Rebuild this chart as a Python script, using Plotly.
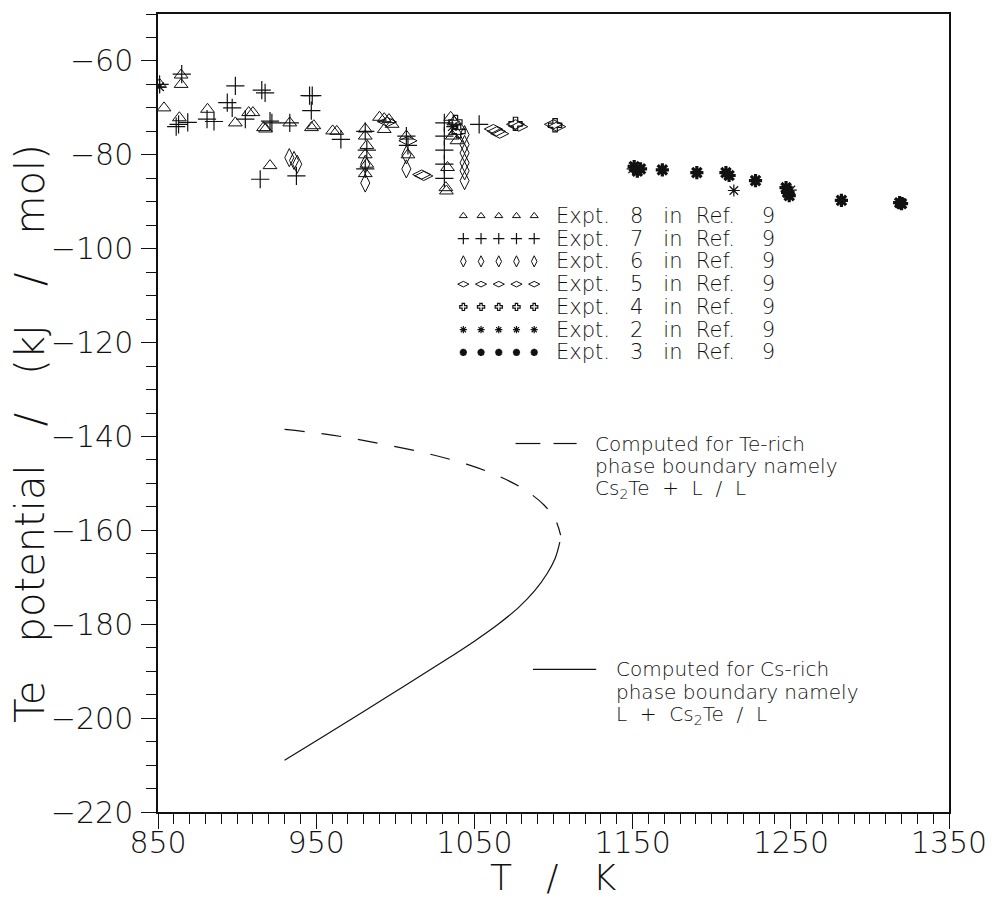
import plotly.graph_objects as go
import numpy as np

# ---------------- data ----------------
# Expt. 8 in Ref. 9 (open triangles)
e8_T = [851, 864.6, 864.6, 853.8, 863.5, 881.3, 898.9, 907.3, 910, 916.7, 918, 920.8, 933.3,
        947, 948.5, 960.4, 963, 981, 981, 982, 981, 982, 981, 990, 993, 996, 998, 993,
        1007, 1008, 1033, 1032.3, 1032, 1035, 1037, 1038, 1040, 1036, 1039]
e8_mu = [-65, -63, -65, -70, -72.1, -70.3, -73.2, -71, -71, -74.2, -74.5, -82.3, -73.2,
         -74.2, -73.8, -74.9, -75, -74.5, -76, -78, -80, -82, -84, -72, -72.3, -72.5, -73.5, -74.6,
         -76, -80, -82.7, -87.7, -87, -72, -73, -75, -74, -76, -77]
# Expt. 7 (plus)
e7_T = [851, 865, 861.5, 863, 868.8, 881, 885.4, 893.8, 896.9, 898.9, 905.2, 915.6, 917.7,
        914.6, 920.8, 922, 933.3, 937.5, 945.8, 947.5, 946.9, 965.6, 981, 982, 981,
        1007, 1008, 1031, 1031, 1031, 1031, 1031, 1053]
e7_mu = [-65, -62.8, -74, -73.5, -73.1, -72.4, -72.9, -68.9, -70, -65.3, -72.4, -66.2, -66.8,
         -85.2, -72.8, -73.2, -73.2, -84.5, -67.4, -67.4, -70.6, -76.7, -75, -79, -83,
         -76, -78, -73.2, -76, -79, -82, -85, -73.5]
# Expt. 6 (tall diamonds)
e6_T = [933, 936, 938, 981, 981, 1007, 1007, 1043.8, 1043.8, 1043.8, 1043.8, 1043.8, 1043.8]
e6_mu = [-80.6, -81.2, -82, -86, -82, -80, -83, -75.7, -77.8, -79.6, -81.7, -83.4, -85.5]
# Expt. 5 (wide diamonds)
e5_T = [1016.7, 1018, 1062, 1064, 1066, 1076, 1078, 1100, 1102, 995, 1008]
e5_mu = [-84.2, -84.5, -74.5, -75, -75.5, -73.5, -74, -73.5, -74, -73, -77]
# Expt. 4 (open cross)
e4_T = [1076, 1101, 1038, 1040]
e4_mu = [-73.4, -73.7, -73, -75]
# Expt. 2 (asterisk)
e2_T = [851, 1214, 1036, 1150, 1250]
e2_mu = [-65.5, -87.6, -74, -83, -87.5]
# Expt. 3 (bold star)
e3_T = [1151, 1153, 1155, 1168.8, 1190.6, 1209, 1211, 1227.7, 1247, 1248, 1249, 1282, 1318.8, 1320]
e3_mu = [-82.5, -83.5, -83, -83.2, -83.8, -83.8, -84.4, -85.5, -87, -88, -88.7, -89.7, -90.2, -90.4]

# Computed curves
te_rich_T = [930, 960, 990, 1020, 1045, 1065, 1082, 1094, 1101, 1104.5]
te_rich_mu = [-138.5, -139.7, -141.5, -143.6, -145.9, -148.4, -151.4, -154.6, -157.6, -161]
cs_rich_T = [930, 955, 980, 1005, 1030, 1050, 1065, 1078, 1088, 1096, 1101, 1104]
cs_rich_mu = [-209, -203.8, -198.6, -193.3, -188.0, -183.6, -180.0, -176.4, -172.9, -169.2, -166, -162.5]

NB = "\u00a0"
legend_labels = [f"Expt.{NB*3}{n}{NB*3}in{NB*2}Ref.{NB*4}9" for n in ["8", "7", "6", "5", "4", "2", "3"]]

te_label = ["Computed for Te-rich", "phase boundary namely",
            f"Cs<sub>2</sub>Te{NB*2}+{NB*2}L{NB*2}/{NB*2}L"]
cs_label = ["Computed for Cs-rich", "phase boundary namely",
            f"L{NB*2}+{NB*2}Cs<sub>2</sub>Te{NB*2}/{NB*2}L"]

x_ticks = [850, 950, 1050, 1150, 1250, 1350]
y_ticks = [-220, -200, -180, -160, -140, -120, -100, -80, -60]
x_title = f"T{NB*3}/{NB*3}K"
y_title = f"Te{NB*3}potential{NB*3}/{NB*3}(kJ{NB*3}/{NB*3}mol)"

# ---------------- figure ----------------
INK = "#111111"
FONT = "DejaVu Sans"
W = 200

series = [
    (e8_T, e8_mu, "triangle-up-open", 12, 1.0),
    (e7_T, e7_mu, "cross-thin-open", 13, 1.2),
    (e6_T, e6_mu, "diamond-tall-open", 13, 1.0),
    (e5_T, e5_mu, "diamond-wide-open", 13, 1.0),
    (e4_T, e4_mu, "cross-open", 11, 1.2),
    (e2_T, e2_mu, "asterisk-open", 10, 1.2),
    (e3_T, e3_mu, "asterisk-open", 11, 3.2),
]

fig = go.Figure()
for T, mu, sym, sz, lw in series:
    fig.add_trace(go.Scatter(x=T, y=mu, mode="markers",
                             marker=dict(symbol=sym, size=sz, color=INK,
                                         line=dict(color=INK, width=lw)),
                             showlegend=False, hoverinfo="skip"))

fig.add_trace(go.Scatter(x=te_rich_T, y=te_rich_mu, mode="lines", line_shape="spline",
                         line=dict(color=INK, width=1.2, dash="20px,17px"),
                         showlegend=False, hoverinfo="skip"))
fig.add_trace(go.Scatter(x=cs_rich_T, y=cs_rich_mu, mode="lines", line_shape="spline",
                         line=dict(color=INK, width=1.2),
                         showlegend=False, hoverinfo="skip"))

# legend block (drawn manually: five sample symbols + text per row)
leg_x0, leg_dx = 1043.0, 11.2
leg_y0, leg_dy = -93.0, -4.85
sample_x = leg_x0 + leg_dx * np.arange(5)
for i, (_, _, sym, sz, lw) in enumerate(series):
    yrow = leg_y0 + leg_dy * i
    fig.add_trace(go.Scatter(x=sample_x, y=[yrow] * 5, mode="markers",
                             marker=dict(symbol=sym, size=max(sz - 5, 6), color=INK,
                                         line=dict(color=INK, width=min(lw, 2.2))),
                             showlegend=False, hoverinfo="skip"))
    fig.add_annotation(x=1100, y=yrow, text=legend_labels[i], showarrow=False,
                       xanchor="left", yanchor="middle",
                       font=dict(family=FONT, size=21, color=INK, weight=W))

# curve labels
line_step = -4.85
fig.add_shape(type="line", x0=1076, x1=1091.7, y0=-141.5, y1=-141.5, line=dict(color=INK, width=1.2))
fig.add_shape(type="line", x0=1100, x1=1114.6, y0=-141.5, y1=-141.5, line=dict(color=INK, width=1.2))
for k, t in enumerate(te_label):
    fig.add_annotation(x=1125, y=-141.5 + line_step * k, showarrow=False, xanchor="left",
                       yanchor="middle", text=t, font=dict(family=FONT, size=20, color=INK, weight=W))
fig.add_shape(type="line", x0=1087, x1=1127, y0=-189.6, y1=-189.6, line=dict(color=INK, width=1.2))
for k, t in enumerate(cs_label):
    fig.add_annotation(x=1138, y=-189.6 + line_step * k, showarrow=False, xanchor="left",
                       yanchor="middle", text=t, font=dict(family=FONT, size=20, color=INK, weight=W))

# axis titles
fig.add_annotation(xref="paper", yref="paper", x=-0.162, y=0.475, textangle=-90,
                   showarrow=False, xanchor="center", yanchor="middle", text=y_title,
                   font=dict(family=FONT, size=40, color=INK, weight=W))
fig.add_annotation(xref="paper", yref="paper", x=0.5, y=-0.0825,
                   showarrow=False, xanchor="center", yanchor="middle", text=x_title,
                   font=dict(family=FONT, size=36, color=INK, weight=W))

fig.update_layout(
    width=999, height=899,
    margin=dict(l=158, r=41, t=12, b=87),
    paper_bgcolor="white", plot_bgcolor="white",
    font=dict(family=FONT, color=INK, weight=W),
)
fig.update_xaxes(range=[850, 1350], tickvals=x_ticks, ticktext=[str(v) for v in x_ticks],
                 showgrid=False, zeroline=False,
                 showline=True, linecolor=INK, linewidth=1.5, mirror=True,
                 ticks="outside", ticklen=15, tickwidth=1.3, tickcolor=INK, ticklabelstandoff=-12,
                 minor=dict(dtick=10, tick0=850, ticks="outside", ticklen=10, tickwidth=1.2, tickcolor=INK),
                 tickfont=dict(family=FONT, size=30, color=INK, weight=W))
fig.update_yaxes(range=[-220, -50], tickvals=y_ticks, ticktext=["\u2212" + str(-v) for v in y_ticks],
                 showgrid=False, zeroline=False,
                 showline=True, linecolor=INK, linewidth=1.5, mirror=True,
                 ticks="outside", ticklen=15, tickwidth=1.3, tickcolor=INK, ticklabelstandoff=2,
                 minor=dict(dtick=5, tick0=-220, ticks="outside", ticklen=10, tickwidth=1.2, tickcolor=INK),
                 tickfont=dict(family=FONT, size=30, color=INK, weight=W))

fig.write_html("out.html")
